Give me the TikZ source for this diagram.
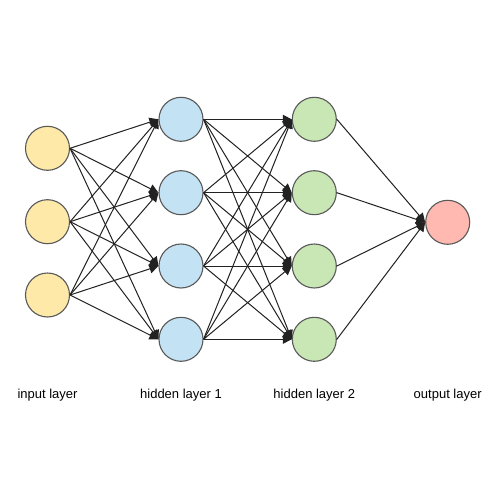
\documentclass[tikz,border=0pt]{standalone}
\usepackage{fontspec}
\setmainfont{Liberation Sans}
\usetikzlibrary{arrows.meta}
\definecolor{cin}{HTML}{FFE9A8}
\definecolor{chA}{HTML}{C3E2F4}
\definecolor{chB}{HTML}{C9E6B5}
\definecolor{cout}{HTML}{FFB9B1}
\definecolor{cbord}{HTML}{595959}
\definecolor{cedge}{HTML}{222222}
\tikzset{
  neuron/.style={circle, draw=cbord, line width=1.1pt, minimum size=44pt, inner sep=0pt},
  conn/.style={draw=cedge, line width=1pt, -{Triangle[length=9pt,width=9pt]}},
  lbl/.style={font=\fontsize{13pt}{15pt}\selectfont, text=black, inner sep=0pt}
}
\begin{document}
\begin{tikzpicture}[x=1pt,y=-1pt]
\fill[white] (0,0) rectangle (500,500);
\useasboundingbox (0,0) rectangle (500,500);
% input
\node[neuron, fill=cin] (i1) at (47.5,148.3) {};
\node[neuron, fill=cin] (i2) at (47.5,221.7) {};
\node[neuron, fill=cin] (i3) at (47.5,295) {};
% hidden 1
\node[neuron, fill=chA] (a1) at (181,119.3) {};
\node[neuron, fill=chA] (a2) at (181,192.7) {};
\node[neuron, fill=chA] (a3) at (181,266) {};
\node[neuron, fill=chA] (a4) at (181,339.3) {};
% hidden 2
\node[neuron, fill=chB] (b1) at (314.3,119.3) {};
\node[neuron, fill=chB] (b2) at (314.3,192.7) {};
\node[neuron, fill=chB] (b3) at (314.3,266) {};
\node[neuron, fill=chB] (b4) at (314.3,339.3) {};
% output
\node[neuron, fill=cout] (o1) at (447.7,222.3) {};
% edges
\foreach \s in {i1,i2,i3}{
  \foreach \t in {a1,a2,a3,a4}{
    \draw[conn] (\s.east) -- (\t.west);
  }
}
\foreach \s in {a1,a2,a3,a4}{
  \foreach \t in {b1,b2,b3,b4}{
    \draw[conn] (\s.east) -- (\t.west);
  }
}
\foreach \s in {b1,b2,b3,b4}{
  \draw[conn] (\s.east) -- (o1.west);
}
% labels
\node[lbl] (l1) at (47.5,395) {input layer};
\node[lbl] (l2) at (181,395) {hidden layer 1};
\node[lbl] (l3) at (314.3,395) {hidden layer 2};
\node[lbl] (l4) at (447.7,395) {output layer};
\end{tikzpicture}
\end{document}
